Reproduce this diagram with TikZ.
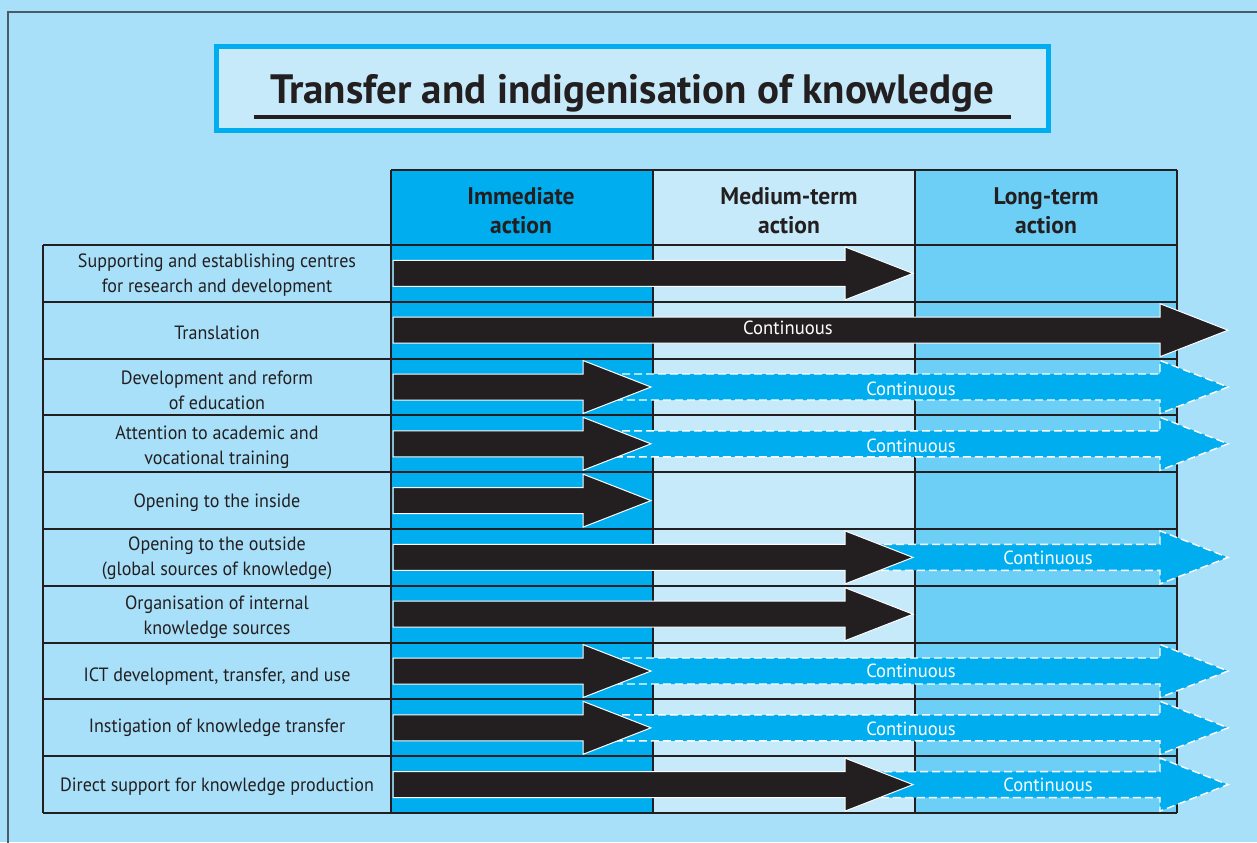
\documentclass[tikz,border=0pt]{standalone}
\usepackage{fontspec}
\setmainfont{PT Sans}
\newfontfamily\condfont{PT Sans}[FakeStretch=0.94]
\newfontfamily\headfont{PT Sans}[FakeStretch=0.98]
\newfontfamily\titlefont{PT Sans Bold}
\definecolor{bgblue}{HTML}{A8E0F9}
\definecolor{cyanA}{HTML}{00AEEF}
\definecolor{paleB}{HTML}{C6EAF9}
\definecolor{midC}{HTML}{6DCFF6}
\definecolor{inkK}{HTML}{231F20}
\definecolor{frameG}{HTML}{4B5B66}
\tikzset{
  gridline/.style={draw=inkK, line width=1pt},
  blkarrow/.style={fill=inkK, draw=white, line width=0.5pt, line join=miter},
  bluarrow/.style={fill=cyanA, draw=white, line width=0.7pt, dash pattern=on 4pt off 2pt},
  labeltext/.style={font=\condfont\fontsize{9.6}{12.5}\selectfont, text=inkK, align=center, inner sep=0pt},
  headtext/.style={font=\headfont\bfseries\fontsize{12}{14.5}\selectfont, text=inkK, align=center, inner sep=0pt},
  conttext/.style={font=\headfont\fontsize{9.5}{11}\selectfont, text=white, inner sep=0pt},
}
\newcommand\BlkArrow[3]{% #1 centre y, #2 head base x, #3 tip x
  \filldraw[blkarrow] (393,#1-13) -- (#2,#1-13) -- (#2,#1-26.5) -- (#3,#1) -- (#2,#1+26.5) -- (#2,#1+13) -- (393,#1+13) -- cycle;}
\newcommand\BluArrow[2]{% #1 centre y, #2 start x
  \filldraw[bluarrow] (#2,#1-13) -- (1160,#1-13) -- (1160,#1-26.5) -- (1228,#1) -- (1160,#1+26.5) -- (1160,#1+13) -- (#2,#1+13) -- cycle;}
\begin{document}
\begin{tikzpicture}[x=0.5pt, y={(0pt,-0.5pt)}]
\useasboundingbox (0,0) rectangle (1257,842);
\fill[bgblue] (0,0) rectangle (1257,842);
% outer frame
\draw[frameG, line width=1pt] (8,845) -- (8,12) -- (1260,12);
% title box
\filldraw[fill=paleB, draw=cyanA, line width=2.5pt] (216.5,46.5) rectangle (1048.5,130.5);
\node[font=\titlefont\fontsize{20.5}{24}\selectfont, text=inkK, anchor=base, inner sep=0pt] (title) at (632,103) {Transfer and indigenisation of knowledge};
\draw[inkK, line width=2.3pt] (254,117) -- (1011,117);
% column backgrounds
\fill[cyanA] (391,170) rectangle (653,813);
\fill[paleB] (653,170) rectangle (915,813);
\fill[midC] (915,170) rectangle (1177,813);
% grid
\draw[gridline] (391,170) -- (1177,170);
\foreach \i in {0,...,10} {
  \draw[gridline] (43,{245+56.8*\i}) -- (1177,{245+56.8*\i});
}
\draw[gridline] (43,245) -- (43,813);
\foreach \x in {391,653,915,1177} {
  \draw[gridline] (\x,170) -- (\x,813);
}
% headers
\node[headtext] (h1) at (521,211) {Immediate\\action};
\node[headtext] (h2) at (789,211) {Medium-term\\action};
\node[headtext] (h3) at (1046,211) {Long-term\\action};
% row labels
\node[labeltext] (l1) at (217,275.4) {Supporting and establishing centres\\for research and development};
\node[labeltext] (l2) at (217,333.2) {Translation};
\node[labeltext] (l3) at (217,390.5) {Development and reform\\of education};
\node[labeltext] (l4) at (217,447.3) {Attention to academic and\\vocational training};
\node[labeltext] (l5) at (217,503) {Opening to the inside};
\node[labeltext] (l6) at (217,558.5) {Opening to the outside\\(global sources of knowledge)};
\node[labeltext] (l7) at (217,617.2) {Organisation of internal\\knowledge sources};
\node[labeltext] (l8) at (217,676.5) {ICT development, transfer, and use};
\node[labeltext] (l9) at (217,727.3) {Instigation of knowledge transfer};
\node[labeltext] (l10) at (217,786.6) {Direct support for knowledge production};
% arrows: blue behind black
\BluArrow{387}{610}
\BluArrow{443.8}{610}
\BluArrow{557.4}{872}
\BluArrow{671}{610}
\BluArrow{727.8}{610}
\BluArrow{784.6}{872}
\BlkArrow{273.4}{845}{913}
\BlkArrow{330.2}{1160}{1228}
\BlkArrow{387}{583}{651}
\BlkArrow{443.8}{583}{651}
\BlkArrow{500.6}{583}{651}
\BlkArrow{557.4}{845}{913}
\BlkArrow{614.2}{845}{913}
\BlkArrow{671}{583}{651}
\BlkArrow{727.8}{583}{651}
\BlkArrow{784.6}{845}{913}
% continuous labels
\node[conttext] (c2) at (788,328) {Continuous};
\node[conttext] (c3) at (911,389) {Continuous};
\node[conttext] (c4) at (911,445.8) {Continuous};
\node[conttext] (c6) at (1048,558) {Continuous};
\node[conttext] (c8) at (911,671) {Continuous};
\node[conttext] (c9) at (911,728.5) {Continuous};
\node[conttext] (c10) at (1048,785) {Continuous};
\end{tikzpicture}
\end{document}
